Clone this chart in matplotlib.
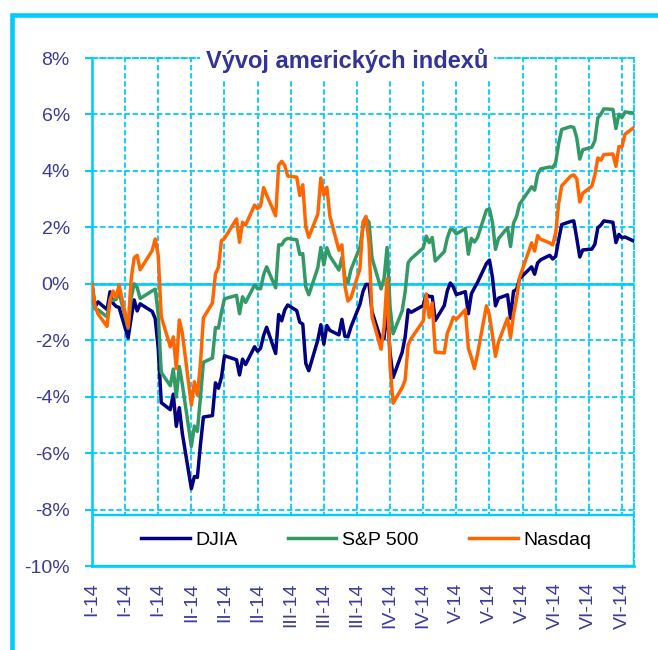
import matplotlib
matplotlib.use("Agg")
import matplotlib.pyplot as plt
from matplotlib import font_manager
from matplotlib.patches import Rectangle
import pandas as pd

# trading days 2014 (1 Jan = base point)
jan = [1, 2, 3, 6, 7, 8, 9, 10, 13, 14, 15, 16, 17, 21, 22, 23, 24, 27, 28, 29, 30, 31]
feb = [3, 4, 5, 6, 7, 10, 11, 12, 13, 14, 18, 19, 20, 21, 24, 25, 26, 27, 28]
mar = [3, 4, 5, 6, 7, 10, 11, 12, 13, 14, 17, 18, 19, 20, 21, 24, 25, 26, 27, 28, 31]
apr = [1, 2, 3, 4, 7, 8, 9, 10, 11, 14, 15, 16, 17, 21, 22, 23, 24, 25, 28, 29, 30]
may = [1, 2, 5, 6, 7, 8, 9, 12, 13, 14, 15, 16, 19, 20, 21, 22, 23, 27, 28, 29, 30]
jun = [2, 3, 4, 5, 6, 9, 10, 11, 12, 13, 16, 17, 18, 19, 20, 23, 24, 25, 26, 27, 30]

# % change since start of year
djia = [0, -0.82, -0.64, -0.91, -0.28, -0.69, -0.80, -0.84, -1.92, -1.22, -0.57,
        -0.96, -0.71, -0.98, -1.23, -2.29, -4.21, -4.46, -3.91, -5.05, -4.39, -5.30,
        -7.26, -6.83, -6.86, -5.72, -4.72, -4.67, -3.51, -3.70, -3.31, -2.55,
        -2.69, -3.23, -2.67, -2.86, -2.23, -2.39, -2.28, -1.83, -1.54,
        -2.47, -1.09, -1.31, -0.93, -0.75, -0.95, -1.36, -1.43, -2.82, -3.08, -1.99,
        -1.45, -2.14, -1.48, -1.65, -1.81, -1.26, -1.86, -1.88, -1.53, -0.72,
        -0.27, -0.02, -0.02, -0.99, -2.00, -1.93, -0.84, -2.45, -3.32, -2.43, -1.89,
        -0.92, -1.01, -0.77, -0.38, -0.45, -0.45, -1.30, -0.77, -0.25, 0.03,
        -0.11, -0.38, -0.28, -1.06, -0.35, -0.15, 0.04, 0.72, 0.84, 0.23, -0.78,
        -0.51, -0.39, -1.22, -0.26, -0.20, 0.18, 0.60, 0.34, 0.74, 0.85,
        1.01, 0.88, 0.97, 1.57, 2.10, 2.21, 2.23, 1.61, 0.95, 1.20, 1.23,
        1.40, 1.99, 2.08, 2.23, 2.18, 1.46, 1.75, 1.63, 1.66, 1.51]
sp500 = [0, -0.89, -0.92, -1.17, -0.57, -0.59, -0.55, -0.32, -1.58, -0.51, 0.00,
         -0.13, -0.52, -0.25, -0.19, -1.08, -3.14, -3.61, -3.02, -4.01, -2.93, -3.56,
         -5.76, -5.04, -5.23, -4.05, -2.78, -2.63, -1.55, -1.57, -1.00, -0.53,
         -0.41, -1.06, -0.46, -0.66, -0.04, -0.18, -0.17, 0.32, 0.60,
         -0.14, 1.38, 1.38, 1.55, 1.61, 1.56, 1.04, 1.07, -0.11, -0.39, 0.57,
         1.29, 0.67, 1.28, 0.98, 0.49, 0.93, 0.23, 0.04, 0.50, 1.30,
         2.01, 2.30, 2.19, 0.91, -0.18, 0.19, 1.29, -0.83, -1.77, -0.96, -0.29,
         0.75, 0.89, 1.27, 1.69, 1.46, 1.64, 0.81, 1.14, 1.62, 1.93,
         1.91, 1.77, 1.96, 1.05, 1.61, 1.48, 1.63, 2.61, 2.66, 2.17, 1.22,
         1.60, 1.99, 1.32, 2.15, 2.39, 2.82, 3.44, 3.32, 3.88, 4.07,
         4.14, 4.11, 4.30, 4.98, 5.47, 5.57, 5.54, 5.17, 4.42, 4.75, 4.84,
         5.07, 5.88, 6.01, 6.20, 6.18, 5.50, 6.01, 5.89, 6.09, 6.05]
nasdaq = [0, -0.80, -1.07, -1.51, -0.56, -0.26, -0.49, -0.05, -1.52, 0.15, 0.92,
          1.01, 0.50, 1.18, 1.59, 1.01, -1.16, -2.23, -1.88, -3.00, -1.28, -1.74,
          -4.30, -3.47, -3.95, -2.86, -1.21, -0.68, 0.35, 0.59, 1.53, 1.61,
          2.30, 1.47, 2.18, 2.08, 2.79, 2.66, 2.76, 3.41, 3.15,
          2.41, 4.20, 4.34, 4.20, 3.82, 3.78, 3.13, 3.51, 2.01, 1.65, 2.47,
          3.75, 3.14, 3.42, 2.40, 1.19, 1.38, -0.07, -0.61, -0.50, 0.54,
          2.19, 2.39, 1.46, -1.17, -2.32, -1.52, 0.18, -2.93, -4.23, -3.68, -3.41,
          -2.16, -1.94, -1.32, -0.36, -1.19, -0.68, -2.42, -2.45, -1.75, -1.49,
          -1.18, -1.26, -0.92, -2.29, -2.61, -3.00, -2.51, -0.78, -1.11, -1.82, -2.57,
          -2.06, -1.22, -1.91, -1.08, -0.53, 0.22, 1.45, 1.16, 1.71, 1.58,
          1.45, 1.38, 1.80, 2.86, 3.47, 3.82, 3.86, 3.72, 2.90, 3.21, 3.46,
          3.85, 4.46, 4.38, 4.58, 4.60, 4.16, 4.86, 4.85, 5.30, 5.54]

tick_labels = ["I-14", "I-14", "I-14", "II-14", "II-14", "II-14", "III-14", "III-14",
               "III-14", "IV-14", "IV-14", "V-14", "V-14", "V-14", "VI-14", "VI-14", "VI-14"]

dates = []
for m, days in zip(range(1, 7), [jan, feb, mar, apr, may, jun]):
    dates += [pd.Timestamp(2014, m, d) for d in days]
x = [(d - pd.Timestamp(2014, 1, 1)).days for d in dates]

cyan = "#00CCFF"
txt_blue = "#3b3b9b"
plt.rcParams["font.family"] = ["Liberation Sans", "DejaVu Sans"]

fig = plt.figure(figsize=(6.58, 6.5), dpi=100)
ax = fig.add_axes([0.1398, 0.1292, 0.8237, 0.7815])

# outer frame
fig.patches.append(Rectangle((0.0178, -0.2), 1.3, 1.1774, transform=fig.transFigure,
                             fill=False, edgecolor=cyan, linewidth=3.3))

ax.plot(x, djia, color="#000080", lw=2.5, solid_joinstyle="round", label="DJIA", zorder=3)
ax.plot(x, sp500, color="#339966", lw=2.5, solid_joinstyle="round", label="S&P 500", zorder=4)
ax.plot(x, nasdaq, color="#FF6600", lw=2.5, solid_joinstyle="round", label="Nasdaq", zorder=5)

ax.set_xlim(0, 180)
ax.set_ylim(-10, 8)
ax.set_yticks(range(-10, 9, 2))
ax.set_yticklabels([f"{v}%" for v in range(-10, 9, 2)])
ax.set_xticks(range(0, 177, 11))
ax.set_xticklabels(tick_labels, rotation=90)

ax.tick_params(axis="y", colors=cyan, labelcolor=txt_blue, labelsize=14,
               length=5, width=1.5, pad=11)
ax.tick_params(axis="x", length=0, labelcolor=txt_blue, labelsize=14, pad=12)

dash = (0, (3, 1.5))
ax.grid(True, color=cyan, lw=1.3, linestyle=dash)
ax.set_axisbelow(True)
ax.axhline(0, color=cyan, lw=1.9, zorder=1)

for side in ["left", "bottom"]:
    ax.spines[side].set_color(cyan)
    ax.spines[side].set_linewidth(1.9)
for side in ["top", "right"]:
    ax.spines[side].set_color(cyan)
    ax.spines[side].set_linewidth(1.3)
    ax.spines[side].set_linestyle(dash)

# legend box at the bottom of the plot area
ax.add_patch(Rectangle((0, 0), 1, 0.1004, transform=ax.transAxes, facecolor="white",
                       edgecolor=cyan, lw=1.7, zorder=1.5))
ax.legend(loc="center", bbox_to_anchor=(0.5055, 0.0512), ncol=3, frameon=False,
          fontsize=14, handlelength=2.5, handletextpad=0.28, columnspacing=2.6)

names = {f.name for f in font_manager.fontManager.ttflist}
if "Liberation Sans Narrow" in names:
    title_font, title_size = "Liberation Sans Narrow", 20.5
else:
    title_font, title_size = "Liberation Sans", 17
ax.text(0.47, 0.980, "Vývoj amerických indexů", transform=ax.transAxes, ha="center",
        va="baseline", fontsize=title_size, fontweight="bold", color="#333399",
        family=[title_font, "DejaVu Sans"],
        bbox=dict(facecolor="white", edgecolor="none", pad=4), zorder=6)

fig.savefig("out.png", dpi=100)
